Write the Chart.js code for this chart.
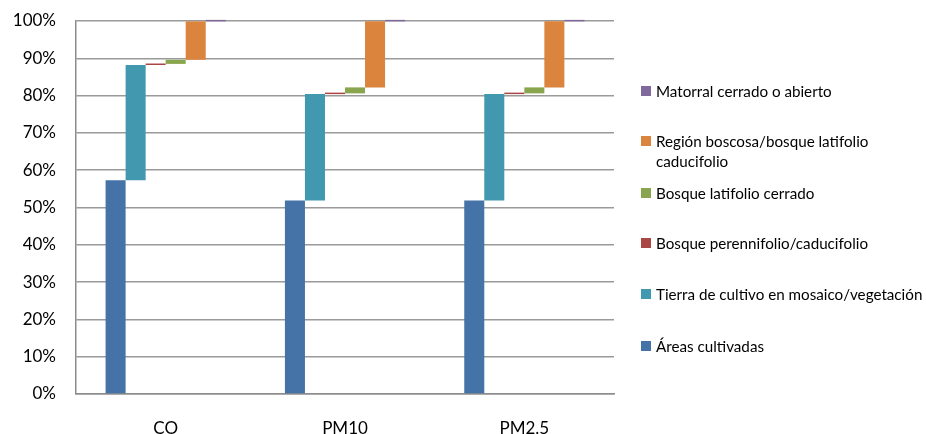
<!DOCTYPE html>
<html lang="es">
<head>
  <meta charset="UTF-8">
  <title>Cobertura de suelo por contaminante</title>
  <script src="https://cdn.jsdelivr.net/npm/chart.js"></script>
  <style>
    body { margin: 0; background: #fff; font-family: Lato, "Open Sans", sans-serif; }
    .wrap { position: relative; width: 926px; height: 434px; }
    .legend { position: absolute; left: 641px; top: 0; font-size: 15.2px; color: #000; }
    .legend .item { position: absolute; left: 0; white-space: nowrap; line-height: 20px; }
    .legend .box { position: absolute; left: 0; top: 5px; width: 10px; height: 10px; }
    .legend .txt { margin-left: 15px; display: block; }
  </style>
</head>
<body>
  <div class="wrap">
    <canvas id="chart" width="926" height="434"></canvas>
    <div class="legend" id="legend"></div>
  </div>

  <script>
    const categories = ['CO', 'PM10', 'PM2.5'];
    const seriesNames = [
      'Áreas cultivadas',
      'Tierra de cultivo en mosaico/vegetación',
      'Bosque perennifolio/caducifolio',
      'Bosque latifolio cerrado',
      'Región boscosa/bosque latifolio caducifolio',
      'Matorral cerrado o abierto'
    ];
    // share of each cover type (%), per category
    const areasCultivadas = [57.3, 51.9, 51.9];
    const tierraMosaico = [30.9, 28.5, 28.5];
    const bosquePerennifolio = [0.3, 0.2, 0.2];
    const bosqueLatifolio = [1.1, 1.6, 1.6];
    const regionBoscosa = [10.3, 17.7, 17.7];
    const matorral = [0.1, 0.1, 0.1];
    const yTicks = [0, 10, 20, 30, 40, 50, 60, 70, 80, 90, 100];
    const colors = ['#4572A7', '#4198AF', '#AA4643', '#89A54E', '#DB843D', '#80699B'];

    const series = [areasCultivadas, tierraMosaico, bosquePerennifolio, bosqueLatifolio, regionBoscosa, matorral];

    // waterfall: each segment floats on top of the previous ones
    const running = categories.map(() => 0);
    const datasets = series.map((vals, i) => {
      const data = vals.map((v, c) => {
        const start = running[c];
        running[c] = start + v;
        return [start, running[c]];
      });
      return {
        label: seriesNames[i],
        data,
        backgroundColor: colors[i],
        borderWidth: 0,
        minBarLength: 1.5,
        clip: 4
      };
    });

    new Chart(document.getElementById('chart'), {
      type: 'bar',
      data: { labels: categories, datasets },
      options: {
        responsive: false,
        animation: false,
        layout: { padding: { top: 21, right: 312, left: 0, bottom: 0 } },
        datasets: { bar: { categoryPercentage: 0.67, barPercentage: 1.0 } },
        plugins: { legend: { display: false }, tooltip: { enabled: false } },
        scales: {
          x: {
            grid: { display: false, drawTicks: false },
            border: { color: '#8c8c8c', width: 1.5 },
            ticks: { color: '#000', font: { family: 'Lato', size: 17 }, padding: 24 },
            afterFit: s => { s.height = 40; }
          },
          y: {
            min: 0,
            max: 100,
            afterBuildTicks: s => { s.ticks = yTicks.map(v => ({ value: v })); },
            grid: { color: '#9a9a9a', lineWidth: 1.5, drawTicks: false },
            border: { color: '#8c8c8c', width: 1.5 },
            ticks: {
              color: '#000',
              font: { family: 'Lato', size: 17 },
              padding: 20,
              callback: v => v + '%'
            },
            afterFit: s => { s.width = 76; s.paddingTop = 0; }
          }
        }
      }
    });

    // legend, reversed order like the reference
    const legendTops = [81, 131, 183, 233, 284, 336];
    const legend = document.getElementById('legend');
    seriesNames.slice().reverse().forEach((name, i) => {
      const idx = seriesNames.length - 1 - i;
      const item = document.createElement('div');
      item.className = 'item';
      item.style.top = legendTops[i] + 'px';
      const box = document.createElement('span');
      box.className = 'box';
      box.style.background = colors[idx];
      const txt = document.createElement('span');
      txt.className = 'txt';
      if (name.startsWith('Región')) {
        txt.innerHTML = 'Región boscosa/bosque latifolio<br>caducifolio';
      } else {
        txt.textContent = name;
      }
      item.appendChild(box);
      item.appendChild(txt);
      legend.appendChild(item);
    });
  </script>
</body>
</html>
